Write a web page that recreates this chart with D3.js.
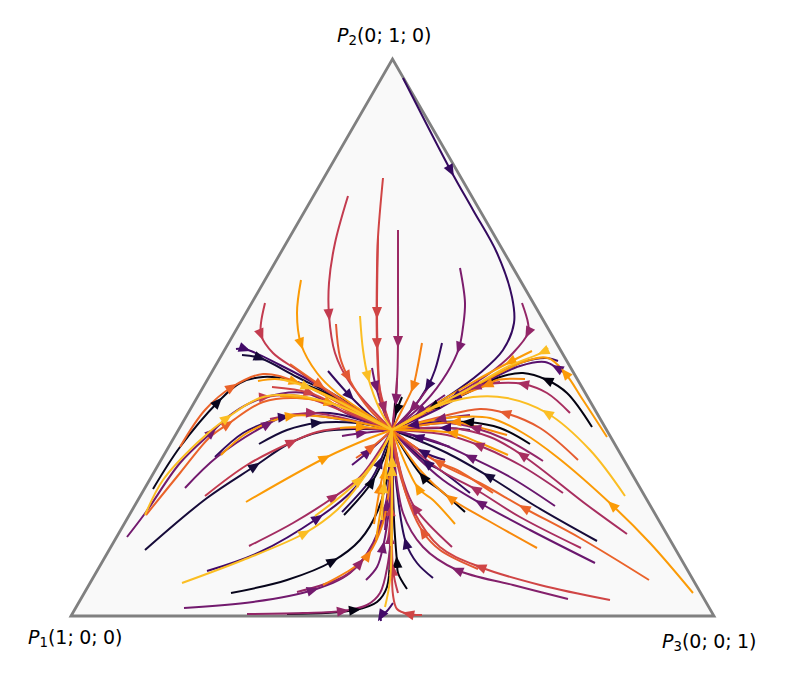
<!DOCTYPE html>
<html>
<head>
<meta charset="utf-8">
<script src="https://cdn.jsdelivr.net/npm/d3@7"></script>
<style>
  html, body { margin: 0; padding: 0; background: #fff; }
  svg { display: block; }
</style>
</head>
<body>
<div id="chart"></div>
<script>
// plane of the simplex, units along the bottom edge from P1 to P3
var simplexSide = 643;
var simplexHeight = 557;
var cornerLabels = [
    {sub: "1", coords: ["1", "0", "0"]},
    {sub: "2", coords: ["0", "1", "0"]},
    {sub: "3", coords: ["0", "0", "1"]}
];
var corners = [[0, 0], [321.5, 557], [643, 0]];

// every trajectory ends in this rest point
var hub = [321, 186];

// trajectories
var streamlines = [
    // left fan, upper
    [[82,127],[109,169],[147,214],[169,233],[192,239],[219,236],[259,221],hub],
    [[109,169],[134,206],[161,229],[192,242],[226,234],[266,214],hub],
    [[56,79],[75,104],[109,153],[141,184],[162,203],[192,218],[234,223],[279,201],hub],
    [[74,101],[92,136],[126,173],[156,198],[189,218],[219,221],[259,213],hub],
    [[75,101],[109,143],[139,179],[157,192],[192,214],[226,218],[276,208],hub],
    [[187,217],[194,219],[229,220],[274,204],hub],
    [[201,229],[239,223],[279,204],hub],
    [[187,235],[204,237],[224,234],[266,216],hub],
    [[209,237],[236,229],[274,211],hub],
    [[209,220],[259,213],hub],
    [[165,267],[174,267],[209,251],[259,224],hub],
    [[171,261],[189,258],[226,239],[262,221],hub],
    [[219,252],[249,231],[289,204],hub],
    // top
    [[194,313],[190,293],[190,281],[202,263],[226,246],[254,226],hub],
    [[230,336],[226,303],[230,272],[246,243],[266,223],hub],
    [[277,420],[264,373],[258,333],[258,301],[264,263],[279,233],hub],
    [[312,438],[307,379],[306,346],[306,272],[309,226],hub],
    [[307,379],[306,303],[307,256],[310,216],hub],
    [[327,386],[327,329],[327,274],[326,236],hub],
    [[389,348],[394,313],[392,289],[388,268],[376,243],[354,214],hub],
    [[332,538],[380,445],[402,406],[426,363],[441,319],[443,293],[432,266],[409,243],[379,221],hub],
    [[451,313],[457,293],[457,283],[442,263],[419,243],[384,221],hub],
    [[351,273],[346,246],[342,229],[331,206],hub],
    [[371,273],[364,246],[357,230],[339,204],hub],
    [[289,300],[292,266],[297,239],[309,206],hub],
    [[301,248],[305,229],[314,201],hub],
    [[265,292],[269,259],[277,239],[299,206],hub],
    [[257,245],[279,220],[299,201],hub],
    // left fan, lower
    [[144,159],[172,183],[202,196],[213,199],[259,203],hub],
    [[150,161],[176,183],[220,200],[269,197],hub],
    [[114,128],[146,159],[197,192],[219,201],[274,196],hub],
    [[199,197],[241,203],[289,194],hub],
    [[188,172],[216,186],[246,193],[286,193],hub],
    [[134,120],[176,151],[221,174],[246,184],[276,188],hub],
    [[74,66],[136,118],[184,150],[219,173],[249,184],[286,187],hub],
    [[269,188],[291,189],hub],
    [[175,114],[254,158],[299,178],hub],
    [[271,180],[291,183],hub],
    [[285,158],[301,169],hub],
    [[281,151],[297,164],hub],
    // bottom left
    [[178,70],[222,93],[263,119],[289,139],[312,171],hub],
    [[136,45],[189,64],[247,98],[279,123],[301,151],hub],
    [[111,33],[172,56],[234,83],[266,106],[289,133],[311,166],hub],
    [[244,100],[288,136],[314,171],hub],
    [[273,101],[301,134],[316,166],hub],
    [[271,104],[301,138],[309,154],hub],
    [[160,23],[216,36],[262,55],[289,76],[307,106],[319,153],hub],
    [[113,8],[182,14],[242,26],[279,43],[302,73],[316,119],hub],
    [[226,24],[272,39],[289,53],[306,79],[317,119],hub],
    [[252,31],[282,48],[297,61],[312,93],[319,136],hub],
    [[295,36],[306,49],[312,69],[319,116],hub],
    [[176,2],[232,3],[272,5],[296,11],[309,23],[317,53],[321,86],hub],
    [[216,2],[284,6],[306,14],[316,29],[319,69],hub],
    // bottom trunk
    [[322,13],[316,5],[310,0],[310,-5]],
    [[351,1],[337,2],[326,7],[322,21],[321,56],hub],
    [[336,27],[327,43],[326,54],[323,96],hub],
    [[362,38],[346,53],[335,73],[326,126],hub],
    [[327,23],[322,46],[321,106],hub],
    [[305,76],[311,116],[314,143],hub],
    [[314,86],[316,111],hub],
    [[317,76],[320,106],hub],
    [[319,46],[319,78],hub],
    [[314,9],[319,36],[321,96],[321,146],hub],
    [[311,96],[313,129],hub],
    [[303,92],[309,128],[316,160],hub],
    [[320,70],[321,125],[321,155],hub],
    // right fan, lower
    [[497,17],[442,31],[386,46],[352,69],[332,103],hub],
    [[539,16],[469,31],[409,49],[369,69],[342,106],[326,153],hub],
    [[407,47],[369,66],[352,84],[336,119],hub],
    [[381,69],[344,108],[332,136],hub],
    [[578,36],[509,78],[453,108],[409,133],[366,154],hub],
    [[524,53],[459,86],[409,113],[372,136],[342,163],hub],
    [[510,68],[449,99],[404,127],[369,146],hub],
    [[466,68],[416,96],[379,118],[349,146],hub],
    [[526,75],[466,109],[417,140],[376,163],[339,179],hub],
    [[484,110],[439,139],[399,159],[366,174],hub],
    [[622,23],[579,73],[541,111],[486,159],[452,183],[419,198],[386,199],[352,194],hub],
    [[556,82],[516,111],[451,161],[419,179],[379,188],hub],
    [[507,156],[469,188],[434,203],[409,207],[369,199],hub],
    [[459,172],[429,188],[397,194],[369,194],hub],
    [[472,155],[436,176],[404,188],[376,193],hub],
    [[492,123],[449,151],[407,171],[376,181],hub],
    [[437,161],[409,173],[381,183],hub],
    [[436,181],[399,191],[384,194],hub],
    [[399,123],[369,146],[356,153],hub],
    [[394,104],[369,126],[352,139],hub],
    [[384,92],[362,116],[347,128],hub],
    [[422,123],[386,146],[367,154],hub],
    [[374,156],[352,164],hub],
    // right fan, upper
    [[536,179],[512,216],[494,243],[477,258],[452,254],[419,238],[374,214],hub],
    [[521,189],[496,223],[476,236],[452,243],[429,239],[396,223],[362,209],hub],
    [[374,216],[362,209],hub],
    [[454,237],[426,236],[416,231],[386,219],hub],
    [[499,203],[476,223],[452,232],[429,233],[404,229],[369,211],hub],
    [[429,234],[404,229],[364,208],hub],
    [[461,265],[439,254],[402,234],hub],
    [[487,255],[476,258],[452,254],[419,238],[384,219],hub],
    [[492,244],[486,248],[474,254],[449,250],[409,231],[369,208],hub],
    [[399,201],[369,197],hub],
    [[369,194],[342,191],hub],
    [[399,186],[374,188],hub],
    [[379,169],[347,179],hub],
    // short ones above the rest point
    [[331,219],[326,206],hub],
    [[326,238],[325,216],hub],
    [[307,231],[313,208],hub],
    [[359,231],[342,208],hub],
    [[374,221],[349,204],hub],
    // light ones
    [[477,268],[472,264],[436,249],[396,226],[362,209],hub],
    [[554,120],[519,166],[476,203],[436,218],[402,219],[362,208],[336,194],hub]
];

// position of each line on the colour ramp
var lineShade = [
    0.05, 0.65, 0.32, 0.85, 0.65, 0.52, 0.56, 0.78, 0.85, 0.78, 0.2, 0.1, 0.65,
    0.52, 0.78, 0.52, 0.56, 0.56, 0.42, 0.34, 0.17, 0.4, 0.72, 0.17, 0.85, 0.32, 0.62, 0.17,
    0.17, 0.78, 0.32, 0.45, 0.1, 0.52, 0.1, 0.78, 0.78, 0.32, 0.65, 0.25,
    0.44, 0.2, 0.85, 0.85, 0.05, 0.15, 0.05, 0.32, 0.4, 0.72, 0.32, 0.4, 0.03,
    0.2, 0.56, 0.03, 0.15, 0.52, 0.78, 0.32, 0.52, 0.4, 0.85, 0.85, 0.74, 0.85,
    0.36, 0.56, 0.62, 0.45, 0.65, 0.3, 0.45, 0.74, 0.1, 0.3, 0.78, 0.45, 0.63, 0.03, 0.4, 0.44, 0.78, 0.74, 0.17, 0.03, 0.78, 0.65, 0.17,
    0.78, 0.03, 0.03, 0.74, 0.45, 0.42, 0.78, 0.2, 0.25, 0.36, 0.2, 0.2, 0.2,
    0.03, 0.36, 0.42, 0.36, 0.32,
    0.85, 0.85
];

// which point of each line carries its arrow head
var arrowAt = [
    2, 2, 3, 3, 3, 1, 1, 2, 1, 1, 1, 1, 1,
    2, 2, 3, 3, 1, 2, 3, 1, 2, 2, 2, 2, 1, 2, 1,
    3, 2, 2, 1, 2, 2, 2, 1, 1, 1, 1, 1,
    2, 2, 2, 1, 1, 2, 2, 2, 2, 2, 2, 2, 1,
    2, 1, 2, 2, 1, 2, 1, 1, 1, 3, 1, 1, 2,
    2, 2, 2, 1, 2, 2, 2, 2, 2, 2, 2, 2, 2, 2, 2, 2, 2, 2, 2, 2, 2, 2, 1,
    2, 2, 1, 2, 2, 1, 1, 4, 1, 1, 1, 1, 1,
    1, 1, 1, 1, 1,
    1, 2
];

var width = 808, height = 675;

var svg = d3.select("#chart")
    .append("svg")
    .attr("width", width)
    .attr("height", height);

var x = d3.scaleLinear().domain([0, simplexSide]).range([71, 714]);
var y = d3.scaleLinear().domain([0, simplexHeight]).range([616, 59]);

// triangle
svg.append("path")
    .attr("d", d3.line().x(function (d) { return x(d[0]); }).y(function (d) { return y(d[1]); })
        .curve(d3.curveLinearClosed)(corners))
    .attr("fill", "#f9f9f9")
    .attr("stroke", "#808080")
    .attr("stroke-width", 2.8)
    .attr("stroke-linejoin", "miter");

var line = d3.line()
    .x(function (d) { return x(d[0]); })
    .y(function (d) { return y(d[1]); })
    .curve(d3.curveCatmullRom.alpha(0.5));

function drawLine(i) {
    svg.append("path")
        .attr("d", line(streamlines[i]))
        .attr("fill", "none")
        .attr("stroke", d3.interpolateInferno(lineShade[i]))
        .attr("stroke-width", 2);
}

function drawArrow(i) {
    var pts = streamlines[i], k = arrowAt[i];
    var a = pts[Math.max(k - 1, 0)], b = pts[Math.min(k + 1, pts.length - 1)];
    var angle = Math.atan2(y(b[1]) - y(a[1]), x(b[0]) - x(a[0])) * 180 / Math.PI;
    svg.append("path")
        .attr("d", "M6,0L-6,-5L-6,5Z")
        .attr("fill", d3.interpolateInferno(lineShade[i]))
        .attr("transform", "translate(" + x(pts[k][0]) + "," + y(pts[k][1]) + ") rotate(" + angle + ")");
}

// dark lines first, light ones on top near the rest point
var order = d3.range(streamlines.length).sort(function (p, q) {
    return d3.ascending(lineShade[p], lineShade[q]);
});
var darker = order.filter(function (i) { return lineShade[i] < 0.8; });
var lighter = order.filter(function (i) { return lineShade[i] >= 0.8; });
darker.forEach(drawLine);
darker.forEach(drawArrow);
lighter.forEach(drawLine);
lighter.forEach(drawArrow);

// corner labels
function cornerLabel(item, px, py) {
    var t = svg.append("text")
        .attr("x", px)
        .attr("y", py)
        .attr("font-family", "DejaVu Sans")
        .attr("font-size", 19)
        .attr("word-spacing", "-0.7px")
        .attr("fill", "#000");
    t.append("tspan").attr("font-style", "italic").text("P");
    t.append("tspan").attr("font-size", 13.3).attr("dy", 3).text(item.sub);
    t.append("tspan").attr("dy", -3).text("(" + item.coords[0] + "; " + item.coords[1] + "; " + item.coords[2] + ")");
}
cornerLabel(cornerLabels[0], 28, 644);
cornerLabel(cornerLabels[1], 337, 42);
cornerLabel(cornerLabels[2], 662, 648);
</script>
</body>
</html>
